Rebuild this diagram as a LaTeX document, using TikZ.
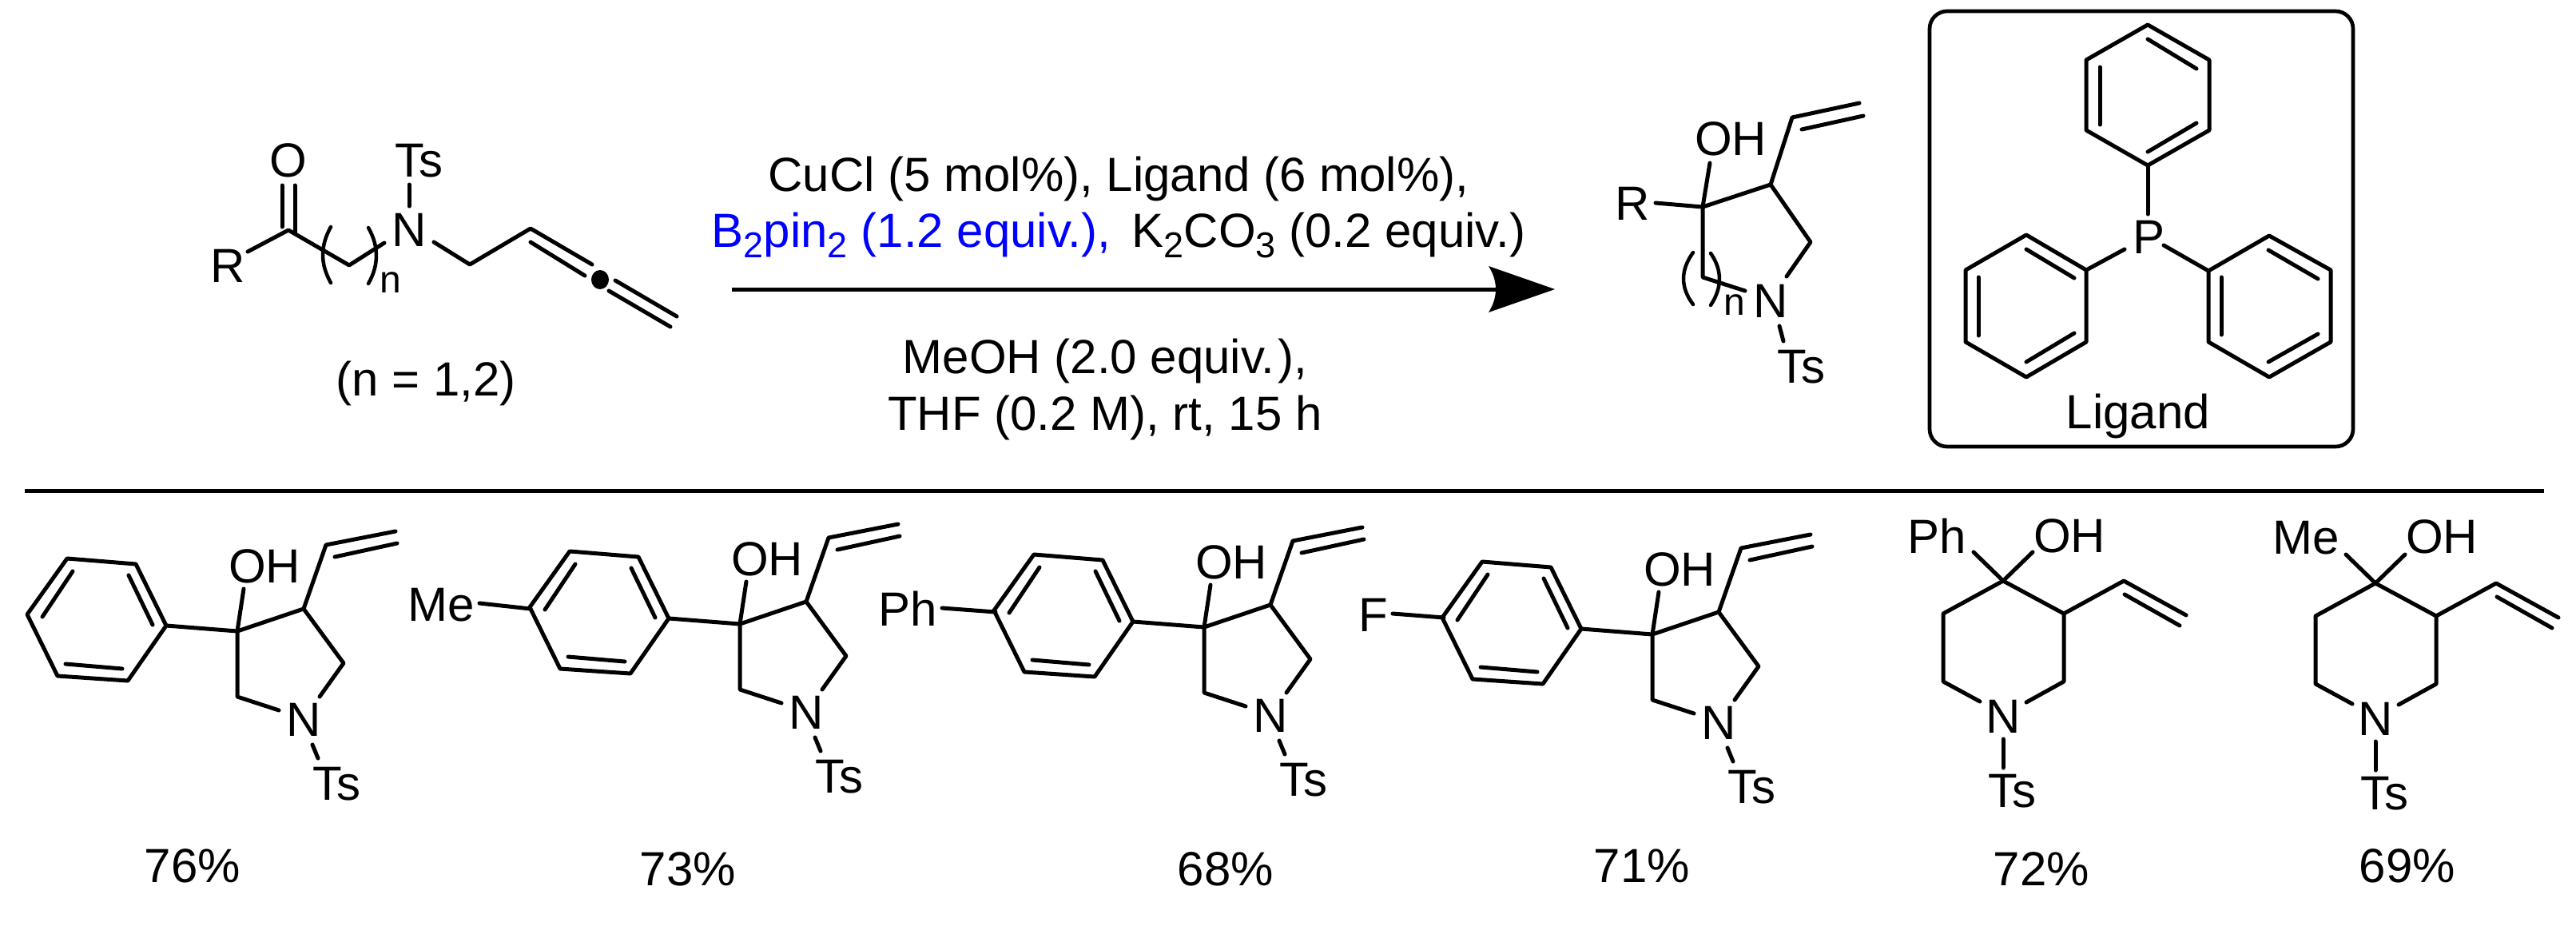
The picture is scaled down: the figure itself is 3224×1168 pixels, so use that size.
\documentclass[tikz,border=0pt]{standalone}
\usepackage{fontspec}
\setmainfont{Liberation Sans}
\newcommand\fs[1]{\fontsize{#1}{#1}\selectfont}
\newcommand\subs[1]{\raisebox{-13pt}{\fs{45}#1}}
\tikzset{
  bond/.style={line width=5pt,line cap=round,line join=round},
  thin bond/.style={line width=4.5pt,line cap=round,line join=round},
  atom/.style={inner sep=0pt,font=\fs{60}},
  label/.style={inner sep=0pt,font=\fs{60},anchor=base},
  subn/.style={inner sep=0pt,font=\fs{48}},
}
% pyrrolidine with vinyl, OH and aryl ring; origin at the quaternary carbon
\newcommand\pyrrolidine[3]{%
\begin{scope}[shift={(#1,#2)}]
  \draw[bond] (0,0) -- (83,-28) -- (111,-108) -- (198,-125);
  \draw[bond] (122,-93) -- (200,-110);
  \draw[bond] (0,0) -- (8,-53);
  \draw[bond] (83,-28) -- (133,40) -- (103,82);
  \draw[bond] (0,0) -- (0,82) -- (52,99);
  \draw[bond] (94,142) -- (101,159);
  \node[atom] (oh#3) at (34,-81) {OH};
  \node[atom] (n#3) at (83,111) {N};
  \node[atom] (ts#3) at (124,191) {Ts};
  \draw[bond] (0,0) -- (-89,-7);
  \draw[bond] (-89,-7) -- (-127,-84) -- (-213,-91) -- (-263,-21) -- (-225,56) -- (-137,62) -- cycle;
  \draw[bond] (-206,-75) -- (-244,-18);
  \draw[bond] (-136,-70) -- (-106,-8);
  \draw[bond] (-215,41) -- (-144,47);
\end{scope}}
\begin{document}
\begin{tikzpicture}[x=1pt,y=-1pt]
\useasboundingbox (0,0) rectangle (3224,1168);
\fill[white] (0,0) rectangle (3224,1168);

% ---------- substrate
\node[atom] (subR) at (285,333) {R};
\node[atom] (subO) at (361,201) {O};
\node[atom] (subN) at (512,288) {N};
\node[atom] (subTs) at (524,201) {Ts};
\node[subn] (subn) at (489,354) {n};
\draw[bond] (310,315) -- (361,288) -- (437,332) -- (481,304);
\draw[bond] (353,232) -- (353,284);
\draw[bond] (369,232) -- (369,292);
\draw[bond] (512,231) -- (512,258);
\draw[bond] (543,303) -- (588,331) -- (664,286) -- (741,331);
\draw[bond] (664,303) -- (732,345);
\fill (751,350) ellipse [x radius=11,y radius=12];
\draw[bond] (770,351) -- (847,396);
\draw[bond] (762,364) -- (839,409);
\draw[thin bond] (414,284) .. controls (400.7,308) and (400.7,330) .. (414,354);
\draw[thin bond] (461,285) .. controls (474.3,308) and (474.3,332) .. (461,355);
\node[label] (nrange) at (533,495) {(n = 1,2)};

% ---------- conditions
\node[label] (c1) at (1400,239) {CuCl (5 mol\%), Ligand (6 mol\%),};
\node[label] (c2) at (1400,309) {\textcolor{blue}{B\subs{2}pin\subs{2} (1.2 equiv.),}\kern10pt\ K\subs{2}CO\subs{3} (0.2 equiv.)};
\node[label] (c3) at (1383,467) {MeOH (2.0 equiv.\kern4pt),};
\node[label] (c4) at (1383,538) {THF (0.2 M), rt, 15 h};
\coordinate (astart) at (916,362);
\coordinate (aend) at (1873,362);
\draw[line width=5pt] (astart) -- (aend);
\fill (1863,333) -- (1946,362) -- (1863,391) .. controls (1875,372) and (1875,352) .. cycle;

% ---------- product
\node[atom] (prR) at (2043,255) {R};
\node[atom] (prOH) at (2166,174) {OH};
\node[atom] (prN) at (2216,377) {N};
\node[atom] (prTs) at (2254,459) {Ts};
\node[subn] (prn) at (2171,382) {n};
\draw[bond] (2072,254) -- (2131,259) -- (2216,231) -- (2243,147) -- (2327,129);
\draw[bond] (2255,162) -- (2332,145);
\draw[bond] (2131,259) -- (2140,204);
\draw[bond] (2216,231) -- (2266,303) -- (2236,346);
\draw[bond] (2131,259) -- (2131,347) -- (2184,364);
\draw[bond] (2227,408) -- (2232,427);
\draw[thin bond] (2119,316) .. controls (2103,338) and (2103,360) .. (2119,381);
\draw[thin bond] (2141,317) .. controls (2155.6,338) and (2155.6,360) .. (2141,382);

% ---------- ligand box
\draw[line width=4.7pt,rounded corners=22pt] (2415,14) rectangle (2945,559);
\node[atom] (P) at (2689,297) {P};
\node[label] (lig) at (2676,536) {Ligand};
\draw[bond] (2688,207) -- (2688,268);
\draw[bond] (2688,207) -- (2765,163) -- (2765,75) -- (2688,31) -- (2611,75) -- (2611,163) -- cycle;
\draw[bond] (2628,84) -- (2628,156);
\draw[bond] (2749,154) -- (2688,190);
\draw[bond] (2749,86) -- (2688,49);
\draw[bond] (2611,338) -- (2659,312);
\draw[bond] (2611,338) -- (2536,294) -- (2460,338) -- (2460,428) -- (2536,472) -- (2611,428) -- cycle;
\draw[bond] (2536,312) -- (2596,348);
\draw[bond] (2476,347) -- (2476,420);
\draw[bond] (2596,417) -- (2536,453);
\draw[bond] (2764,339) -- (2708,307);
\draw[bond] (2764,339) -- (2840,295) -- (2917,338) -- (2917,428) -- (2840,472) -- (2764,428) -- cycle;
\draw[bond] (2839,313) -- (2901,349);
\draw[bond] (2780,347) -- (2780,419);
\draw[bond] (2839,453) -- (2901,418);

% ---------- separator
\coordinate (sepL) at (31,614);
\coordinate (sepR) at (3184,614);
\draw[line width=5pt] (sepL) -- (sepR);

% ---------- row of products
\pyrrolidine{297}{790}{A}
\pyrrolidine{926}{781}{B}
\pyrrolidine{1507}{785}{C}
\pyrrolidine{2068}{794}{D}
\node[atom] (me2) at (552,757) {Me};
\draw[bond] (600,755) -- (664,762);
\node[atom] (ph3) at (1136,762) {Ph};
\draw[bond] (1179,761) -- (1246,766);
\node[atom] (f4) at (1719,770) {F};
\draw[bond] (1743,768) -- (1807,773);
\node[atom] (y1) at (241,1084) {76\%};
\node[atom] (y2) at (861,1088) {73\%};
\node[atom] (y3) at (1534,1088) {68\%};
\node[atom] (y4) at (2055,1084) {71\%};

% piperidine 5
\node[atom] (ph5) at (2424,671) {Ph};
\node[atom] (oh5) at (2590,671) {OH};
\node[atom] (n5) at (2507,897) {N};
\node[atom] (ts5) at (2518,990) {Ts};
\node[atom] (y5) at (2555,1088) {72\%};
\draw[bond] (2470,691) -- (2507,727) -- (2544,691);
\draw[bond] (2478,878) -- (2432,853) -- (2432,768) -- (2507,727) -- (2583,768) -- (2583,853) -- (2536,879);
\draw[bond] (2583,768) -- (2658,727) -- (2736,770);
\draw[bond] (2659,744) -- (2728,783);
\draw[bond] (2507,925) -- (2507,961);
% piperidine 6
\node[atom] (me6) at (2886,673) {Me};
\node[atom] (oh6) at (3056,672) {OH};
\node[atom] (n6) at (2973,900) {N};
\node[atom] (ts6) at (2984,993) {Ts};
\node[atom] (y6) at (3013,1084) {69\%};
\draw[bond] (2936,694) -- (2973,730) -- (3010,694);
\draw[bond] (2944,881) -- (2898,856) -- (2898,771) -- (2973,730) -- (3049,771) -- (3049,856) -- (3002,882);
\draw[bond] (3049,771) -- (3124,730) -- (3202,773);
\draw[bond] (3125,747) -- (3194,786);
\draw[bond] (2973,928) -- (2973,964);
\end{tikzpicture}
\end{document}
